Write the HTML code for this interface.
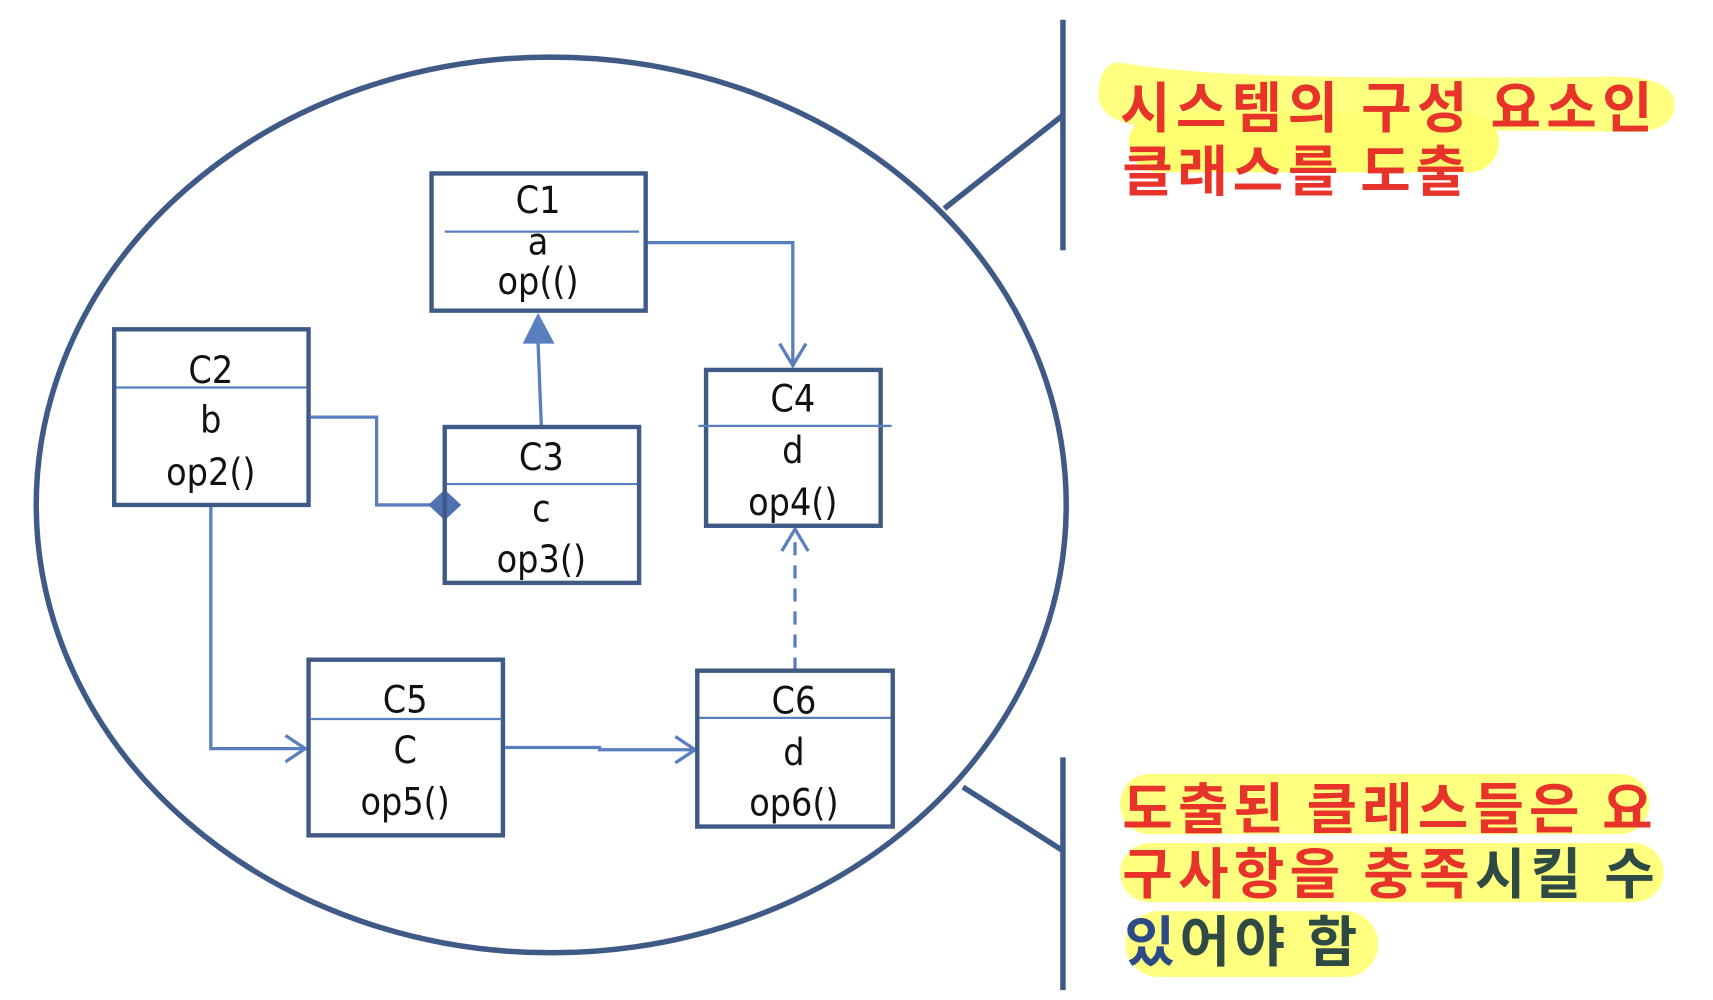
<!DOCTYPE html>
<html><head><meta charset="utf-8"><style>html,body{margin:0;padding:0;background:#fff}svg{display:block}</style></head>
<body>
<svg width="1713" height="1000" viewBox="0 0 1560 911" preserveAspectRatio="none" xmlns="http://www.w3.org/2000/svg">
<rect width="1560" height="911" fill="#fff"/>
<!-- highlights -->
<g fill="#ffff80">
<path d="M1020,57 C1100,70 1200,72 1460,70 Q1525,68 1525,95 Q1525,122 1480,120 L1040,115 Q1000,110 1000,85 Q1003,55 1020,57Z"/>
<rect x="1028" y="103" width="337" height="54" rx="27" fill="#ffff70"/>
<rect x="1020" y="705" width="482" height="55" rx="27"/>
<rect x="1020" y="768" width="495" height="54" rx="27"/>
<rect x="1025" y="830" width="230" height="60" rx="30"/>
</g>
<!-- ellipse and callouts -->
<g fill="none" stroke="#3f5a87" stroke-width="5">
<ellipse cx="502" cy="460" rx="469" ry="408"/>
<line x1="968" y1="18" x2="968" y2="228"/>
<line x1="860" y1="190" x2="968" y2="105"/>
<line x1="968" y1="690" x2="968" y2="902"/>
<line x1="877" y1="717" x2="968" y2="775"/>
</g>
<!-- connectors -->
<g fill="none" stroke="#5a7fbf" stroke-width="3">
<polyline points="588,221 722,221 722,333"/>
<polyline points="710,313 722,333 734,313"/>
<line x1="493" y1="389" x2="490" y2="312"/>
<polyline points="283,380 343,380 343,460 392,460"/>
<polyline points="192,460 192,682 278,682"/>
<polyline points="260,670 278,682 260,694"/>
<polyline points="460,681 546,681 546,683 633,683"/>
<polyline points="615,671 633,683 615,695"/>
<line x1="724" y1="611" x2="724" y2="484" stroke-dasharray="12,9"/>
<polyline points="712,502 724,482 736,502"/>
</g>
<polygon points="490,285 476,313 505,313" fill="#5a7fbf"/>
<polygon points="390,460 405,446 420,460 405,474" fill="#4f73b0"/>
<!-- boxes -->
<g fill="none" stroke="#3f5a87" stroke-width="4">
<rect x="393" y="158" width="195" height="125"/>
<rect x="104" y="300" width="177" height="160"/>
<rect x="405" y="389" width="177" height="142"/>
<rect x="643" y="337" width="159" height="142"/>
<rect x="281" y="601" width="177" height="160"/>
<rect x="635" y="611" width="178" height="142"/>
</g>
<g stroke="#5a7fbf" stroke-width="2">
<line x1="405" y1="211" x2="582" y2="211"/>
<line x1="106" y1="353" x2="279" y2="353"/>
<line x1="407" y1="441" x2="580" y2="441"/>
<line x1="636" y1="388" x2="812" y2="388"/>
<line x1="283" y1="655" x2="456" y2="655"/>
<line x1="637" y1="654" x2="811" y2="654"/>
</g>
<g font-family="'DejaVu Sans Condensed','Liberation Sans',sans-serif" font-size="34" fill="#111" text-anchor="middle">
<text x="490" y="194">C1</text><text x="490" y="232">a</text><text x="490" y="268">op(()</text>
<text x="192" y="349">C2</text><text x="192" y="394">b</text><text x="192" y="442">op2()</text>
<text x="493" y="428">C3</text><text x="493" y="475">c</text><text x="493" y="521">op3()</text>
<text x="722" y="375">C4</text><text x="722" y="422">d</text><text x="722" y="469">op4()</text>
<text x="369" y="649">C5</text><text x="369" y="695">C</text><text x="369" y="742">op5()</text>
<text x="723" y="650">C6</text><text x="723" y="697">d</text><text x="723" y="743">op6()</text>
</g>
<g font-family="'Noto Sans CJK KR','NanumGothic',sans-serif" font-size="50" font-weight="bold">
<text x="1020" y="116" fill="#e8332a" textLength="485" lengthAdjust="spacing">시스템의 구성 요소인</text>
<text x="1022" y="174" fill="#e8332a" textLength="313" lengthAdjust="spacing">클래스를 도출</text>
<text x="1022" y="755" fill="#e8332a" textLength="483" lengthAdjust="spacing">도출된 클래스들은 요</text>
<text x="1022" y="814" textLength="485" lengthAdjust="spacing"><tspan fill="#e8332a">구사항을 충족</tspan><tspan fill="#2f4a44">시킬 수</tspan></text>
<text x="1024" y="876" textLength="212" lengthAdjust="spacing"><tspan fill="#2e4a86">있</tspan><tspan fill="#2f4a44">어야 함</tspan></text>
</g>
</svg>
</body></html>
